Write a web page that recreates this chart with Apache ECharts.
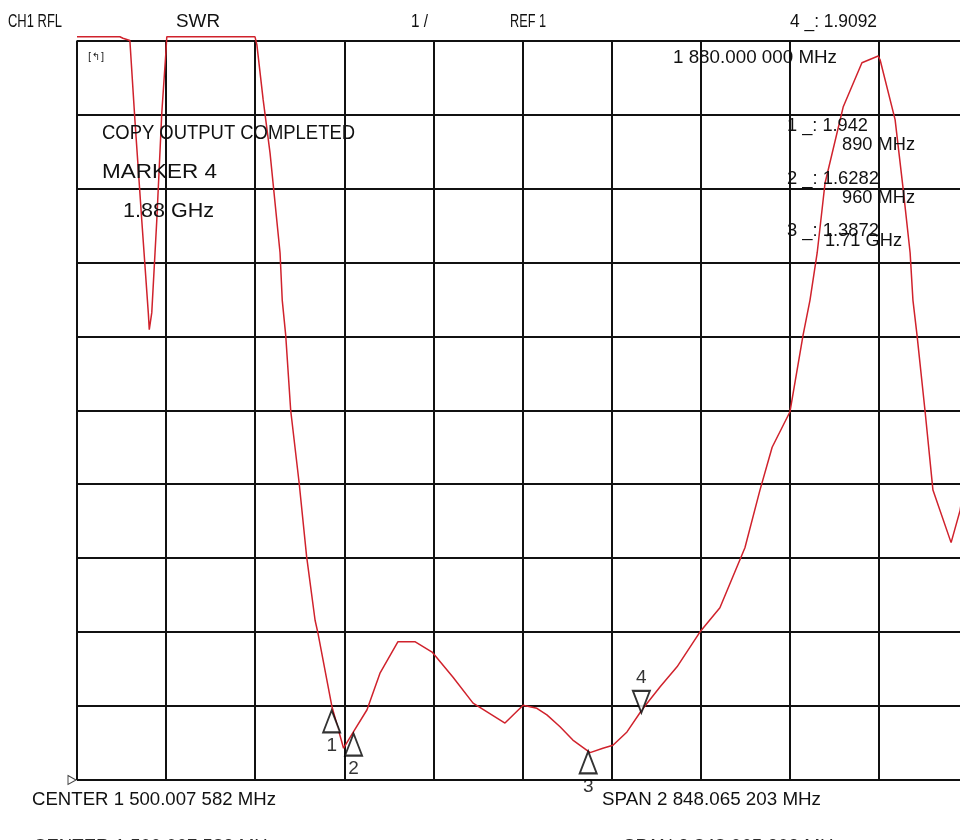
<!DOCTYPE html>
<html>
<head>
<meta charset="utf-8">
<script src="https://cdn.jsdelivr.net/npm/echarts@6/dist/echarts.min.js"></script>
<style>html,body{margin:0;padding:0;background:#fff}#c{width:960px;height:840px}</style>
</head>
<body>
<div id="c"></div>
<script>
// ---- data (frequency in MHz, SWR) ----
const startMHz = 75.975;
const stopMHz = 2924.04;
const freqMHz = [76, 213, 223, 245, 261, 283, 304, 307, 315, 331, 347, 360, 363, 645, 651, 671, 693, 725, 732, 743,
  759, 786, 810, 837, 846, 891, 928, 958, 1003, 1045, 1102, 1156, 1211, 1278, 1342, 1444, 1502, 1546, 1578, 1620,
  1661, 1716, 1757, 1789, 1834, 1882, 1940, 1994, 2067, 2131, 2211, 2259, 2298, 2355, 2397, 2419, 2442, 2467, 2525,
  2585, 2637, 2643, 2691, 2716, 2739, 2748, 2761, 2787, 2812, 2870, 2899, 2918];
const swr = [11.05, 11.05, 11.03, 11.0, 9.93, 8.57, 7.31, 7.09, 7.32, 8.57, 10.02, 10.83, 11.05, 11.05, 10.94, 10.2, 9.48, 8.13, 7.49, 7.02,
  6.0, 5.02, 4.02, 3.16, 2.99, 1.99, 1.43, 1.64, 1.95, 2.45, 2.87, 2.87, 2.73, 2.39, 2.04, 1.77, 2.01, 1.97, 1.88, 1.72,
  1.54, 1.37, 1.43, 1.47, 1.65, 1.95, 2.26, 2.53, 3.0, 3.33, 4.14, 4.92, 5.5, 5.98, 7.02, 7.49, 8.13, 9.07, 10.1,
  10.7, 10.79, 10.74, 9.93, 9.02, 8.13, 7.49, 7.02, 5.98, 4.92, 4.21, 4.65, 5.2];
const markerNames = ['1', '2', '3', '4'];
const markerFreqMHz = [890, 960, 1710, 1880];
const markerSwr = [1.942, 1.6282, 1.3872, 1.9092];
const refLevel = 1;
const yMin = 1, yMax = 11, yDiv = 1;
const xDivisions = 10;

// ---- text helpers ----
const FONT = '"Liberation Sans", Arial, sans-serif';
const mctx = document.createElement('canvas').getContext('2d');
function txt(text, x, y, w, size, color) {
  mctx.font = size + 'px ' + FONT;
  const m = mctx.measureText(text).width;
  return {
    type: 'text', x: x, y: y, scaleX: w / m, z: 100,
    style: { text: text, fontSize: size, fontFamily: FONT, fill: color || '#111', align: 'left', verticalAlign: 'middle' }
  };
}
function ghost(text, x, baseline, w, size) {
  mctx.font = size + 'px ' + FONT;
  const m = mctx.measureText(text).width;
  return {
    type: 'text', x: x, y: baseline, scaleX: w / m, z: 90,
    style: { text: text, fontSize: size, fontFamily: FONT, fill: '#2a2a2a', align: 'left', verticalAlign: 'alphabetic', textBaseline: 'alphabetic' }
  };
}

const chart = echarts.init(document.getElementById('c'), null, { renderer: 'canvas' });
const tracePairs = freqMHz.map((f, i) => [f, swr[i]]);
const upMarkers = [], downMarkers = [];
markerFreqMHz.forEach((f, i) => {
  const item = { value: [f, markerSwr[i]], name: markerNames[i] };
  if (i === 3) downMarkers.push(item); else upMarkers.push(item);
});
const markLabel = { show: true, formatter: p => p.name, color: '#000', fontSize: 19, fontFamily: FONT, textBorderWidth: 0 };
const markStyle = { color: '#fff', borderColor: '#000', borderWidth: 2 };

chart.setOption({
  animation: false,
  backgroundColor: '#fff',
  grid: { left: 77, top: 40.5, width: 891, height: 739.5, containLabel: false, outerBoundsMode: 'none' },
  xAxis: [
    { type: 'value', min: startMHz, max: stopMHz, show: false, splitLine: { show: false } },
    { type: 'value', min: 0, max: xDivisions, interval: 1, axisLine: { show: false }, axisTick: { show: false },
      axisLabel: { show: false }, splitLine: { show: true, lineStyle: { color: '#111', width: 2 } } }
  ],
  yAxis: [
    { type: 'value', min: yMin, max: yMax, interval: yDiv, axisLine: { show: false }, axisTick: { show: false },
      axisLabel: { show: false }, splitLine: { show: true, lineStyle: { color: '#111', width: 2 } } }
  ],
  series: [
    { type: 'line', xAxisIndex: 0, data: tracePairs, showSymbol: false, symbol: 'none', clip: false,
      lineStyle: { color: '#d0222c', width: 1.5 }, z: 5 },
    { type: 'scatter', xAxisIndex: 0, data: upMarkers, symbol: 'triangle', symbolSize: [17, 22], symbolOffset: [0, 11],
      itemStyle: markStyle, z: 10,
      label: Object.assign({ position: 'bottom', distance: 3 }, markLabel) },
    { type: 'scatter', xAxisIndex: 0, data: downMarkers, symbol: 'path://M0,0 L2,0 L1,2 Z', symbolSize: [17, 22], symbolOffset: [0, -11],
      itemStyle: markStyle, z: 10,
      label: Object.assign({ position: 'top', distance: 2 }, markLabel) },
    { type: 'scatter', xAxisIndex: 0, data: [[startMHz, refLevel]], symbol: 'path://M0,0 L2,1 L0,2 Z', symbolSize: [8, 9], symbolOffset: [-5, 0],
      itemStyle: { color: '#fff', borderColor: '#111', borderWidth: 1 }, z: 10, clip: false }
  ],
  graphic: [
    txt('CH1 RFL', 8, 22, 54, 18),
    txt('SWR', 176, 22, 44, 18),
    txt('1 /', 411, 22, 17, 18),
    txt('REF 1', 510, 22, 36, 18),
    txt('4 _: 1.9092', 790, 22, 87, 18),
    { type: 'text', x: 88, y: 57, z: 100, style: { text: '[↰]', fontSize: 10, fontFamily: 'DejaVu Sans', fill: '#222', verticalAlign: 'middle' } },
    txt('1 880.000 000 MHz', 673, 58, 164, 18.6),
    txt('COPY OUTPUT COMPLETED', 102, 133.5, 253, 20.5),
    txt('MARKER 4', 102, 172.5, 115, 20.5),
    txt('1.88 GHz', 123, 211.5, 91, 20.5),
    txt('1 _: 1.942', 787, 126, 81, 18.6),
    txt('890 MHz', 842, 145, 73, 18.6),
    txt('2 _: 1.6282', 787, 179, 92, 18.6),
    txt('960 MHz', 842, 198, 73, 18.6),
    txt('3 _: 1.3872', 787, 231, 92, 18.6),
    txt('1.71 GHz', 825, 240.5, 77, 18.6),
    txt('CENTER 1 500.007 582 MHz', 32, 800, 244, 18.6),
    txt('SPAN 2 848.065 203 MHz', 602, 800, 219, 18.6),
    ghost('CENTER 1 500.007 582 MHz', 33, 837, 244, 18.6),
    ghost('SPAN 2 848.065 203 MHz', 623, 837, 220, 18.6),
    { type: 'rect', z: 95, shape: { x: 0, y: 814, width: 960, height: 14 }, style: { fill: '#fff' } }
  ]
});
</script>
</body>
</html>
